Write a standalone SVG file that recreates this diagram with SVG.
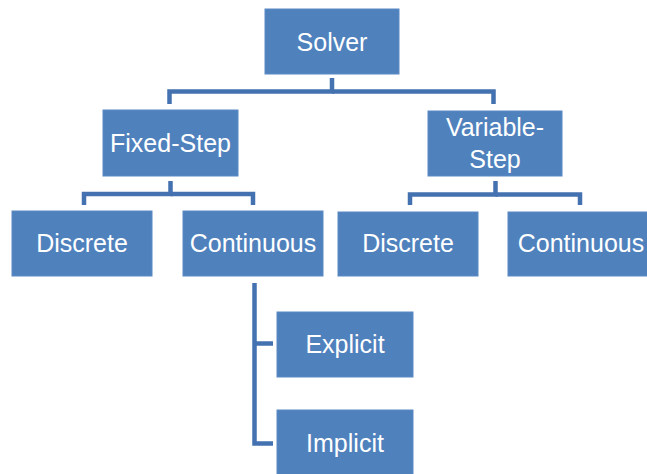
<svg xmlns="http://www.w3.org/2000/svg" width="647" height="474" viewBox="0 0 647 474">
  <style>
    .box { fill: #4F81BD; stroke: #5B8AC4; stroke-width: 1; }
    .lbl { fill: #FFFFFF; font-family: "Liberation Sans", Arial, sans-serif; font-size: 25px; text-anchor: middle; }
    .link { fill: none; stroke: #4472B0; stroke-width: 4.5; stroke-linejoin: miter; stroke-linecap: butt; }
  </style>
  <rect width="647" height="474" fill="#FFFFFF"/>

  <g id="connectors">
    <path class="link" d="M332,78 V91.5 H169.5 V104"/>
    <path class="link" d="M332,91.5 H493.5 V104"/>
    <path class="link" d="M170.5,181 V194 H84 V205"/>
    <path class="link" d="M170.5,194 H253 V205"/>
    <path class="link" d="M495.5,181 V194.5 H410 V205"/>
    <path class="link" d="M495.5,194.5 H580 V205"/>
    <path class="link" d="M254.5,283 V443.5 H273"/>
    <path class="link" d="M254.5,343.5 H273"/>
  </g>

  <g id="solver">
    <rect class="box" x="265" y="9" width="134" height="65"/>
    <text class="lbl" x="332" y="50.5">Solver</text>
  </g>
  <g id="fixed-step">
    <rect class="box" x="103" y="110" width="135" height="66"/>
    <text class="lbl" x="170.5" y="152">Fixed-Step</text>
  </g>
  <g id="variable-step">
    <rect class="box" x="428" y="111" width="134" height="65"/>
    <text class="lbl" x="495" y="136">Variable-</text>
    <text class="lbl" x="495" y="168">Step</text>
  </g>
  <g id="fixed-discrete">
    <rect class="box" x="12" y="211" width="140" height="65"/>
    <text class="lbl" x="82" y="252">Discrete</text>
  </g>
  <g id="fixed-continuous">
    <rect class="box" x="183" y="211" width="140" height="65"/>
    <text class="lbl" x="253" y="252">Continuous</text>
  </g>
  <g id="variable-discrete">
    <rect class="box" x="338" y="212" width="140" height="64"/>
    <text class="lbl" x="408" y="252">Discrete</text>
  </g>
  <g id="variable-continuous">
    <rect class="box" x="508" y="212" width="142" height="64"/>
    <text class="lbl" x="581" y="252">Continuous</text>
  </g>
  <g id="explicit">
    <rect class="box" x="277" y="312" width="136" height="65"/>
    <text class="lbl" x="345" y="353">Explicit</text>
  </g>
  <g id="implicit">
    <rect class="box" x="277" y="410" width="136" height="70"/>
    <text class="lbl" x="345" y="452">Implicit</text>
  </g>
</svg>
